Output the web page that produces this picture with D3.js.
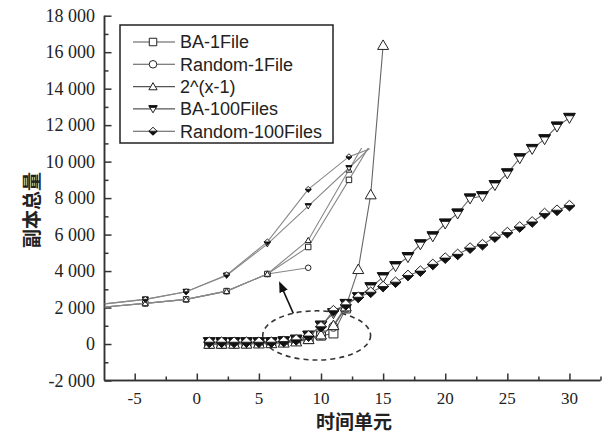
<!DOCTYPE html>
<html>
<head>
<meta charset="utf-8">
<script src="https://cdn.jsdelivr.net/npm/d3@7"></script>
<style>
	body { margin: 0; background: #fff; }
	svg { display: block; }
</style>
</head>
<body>
<svg id="chart"></svg>
<script>
	// Main series (x = time unit)
	const xPow = [1, 2, 3, 4, 5, 6, 7, 8, 9, 10, 11, 12, 13, 14, 15];
	const pow2 = [1, 2, 4, 8, 16, 32, 64, 128, 256, 512, 1024, 2048, 4096, 8192, 16384];

	const x1File = [1, 2, 3, 4, 5, 6, 7, 8, 9, 10, 11, 12];
	const ba1File = [5, 10, 20, 40, 60, 90, 130, 180, 270, 460, 580, 1950];
	const random1File = [5, 10, 20, 40, 60, 90, 130, 200, 300, 520, 950, 2000];

	const x100Files = [1, 2, 3, 4, 5, 6, 7, 8, 9, 10, 11, 12, 13, 14, 15, 16, 17, 18, 19, 20,
		21, 22, 23, 24, 25, 26, 27, 28, 29, 30];
	const ba100Files = [100, 100, 100, 100, 100, 100, 150, 240, 460, 1010, 1690, 2200, 2565, 3116, 3667,
		4272, 4768, 5467, 5907, 6606, 7157, 7983, 8109, 8715, 9359, 10185, 10697, 11231, 11924, 12400];
	const random100Files = [100, 100, 100, 100, 100, 100, 140, 230, 440, 950, 1830, 2150, 2565, 2841, 3154,
		3391, 3760, 3997, 4366, 4712, 4916, 5263, 5450, 5868, 6111, 6419, 6694, 7157, 7338, 7590];

	// Magnified inset (drawn in the same axis units)
	const insetX = [-7.43, -4.15, -0.86, 2.4, 5.68, 8.97, 12.25, 15.53];
	const insetBA1 = [2030, 2230, 2450, 2900, 3840, 5320, 9000, 12700];
	const insetRandom1 = [2030, 2230, 2450, 2900, 3840, 4180];
	const insetPow = [2030, 2230, 2450, 2900, 3840, 5690, 9550, 13400];
	const insetBA100 = [2200, 2450, 2870, 3760, 5480, 7560, 9650, 11800];
	const insetRandom100 = [2200, 2450, 2870, 3790, 5600, 8480, 10270, 11100];
	const insetClip = {x0: -7.43, x1: 13.9, y0: 0, y1: 10750};

	// Annotation: dashed ellipse and arrow
	const ellipse = {cx: 9.65, cy: 470, rx: 4.34, ry: 1350};
	const arrow = {x0: 7.77, y0: 1683, x1: 6.7, y1: 3330};

	const legendLabels = ["BA-1File", "Random-1File", "2^(x-1)", "BA-100Files", "Random-100Files"];
	const yTicks = [-2000, 0, 2000, 4000, 6000, 8000, 10000, 12000, 14000, 16000, 18000];
	const xTicks = [-5, 0, 5, 10, 15, 20, 25, 30];

	(function(){
		const width = 612;
		const height = 434;
		const serif = "'Liberation Serif', 'Times New Roman', 'DejaVu Serif', serif";
		const sans = "'Liberation Sans', Arial, sans-serif";
		const cjk = "'Noto Sans CJK SC', sans-serif";

		const x = d3.scaleLinear()
				.domain([-7.43, 32.5])
				.range([104.5, 600.5]);

		const y = d3.scaleLinear()
				.domain([-2000, 18000])
				.range([380.5, 15.7]);

		const fmt = d3.formatLocale({decimal: ".", thousands: " ", grouping: [3], currency: ["", ""], minus: "-"}).format(",");

		const svg = d3.select("#chart")
				.attr("width", width)
				.attr("height", height);

		///////////////////////////////////////////////////////////////
		// Axes (left + bottom only, ticks inward)
		const yAxis = svg.append("g")
				.attr("transform", `translate(${x.range()[0]},0)`)
				.call(d3.axisRight(y).tickValues(yTicks).tickSize(7).tickFormat(""));
		yAxis.append("g")
				.call(d3.axisRight(y).tickValues(d3.range(-1000, 18000, 2000)).tickSize(4).tickFormat(""));
		yAxis.selectAll(".domain").attr("d", `M0,${y.range()[0]}V${y.range()[1]}`);

		const xAxis = svg.append("g")
				.attr("transform", `translate(0,${y.range()[0]})`)
				.call(d3.axisTop(x).tickValues(xTicks).tickSize(7).tickFormat(""));
		xAxis.append("g")
				.call(d3.axisTop(x).tickValues(d3.range(-2.5, 33, 5)).tickSize(4).tickFormat(""));
		xAxis.selectAll(".domain").attr("d", `M${x.range()[0]},0H${x.range()[1]}`);

		svg.selectAll(".domain, .tick line")
				.attr("stroke", "#333")
				.attr("stroke-width", 1.5);

		svg.selectAll(".y-label")
			.data(yTicks)
			.enter().append("text")
				.attr("x", 95)
				.attr("y", d => y(d))
				.attr("dy", "0.35em")
				.attr("text-anchor", "end")
				.style("font-family", serif)
				.style("font-size", "18px")
				.style("fill", "#222")
				.text(d => fmt(d));

		svg.selectAll(".x-label")
			.data(xTicks)
			.enter().append("text")
				.attr("x", d => x(d))
				.attr("y", 404)
				.attr("text-anchor", "middle")
				.style("font-family", serif)
				.style("font-size", "17px")
				.style("fill", "#222")
				.text(d => d < 0 ? "-" + Math.abs(d) : d);

		svg.append("text")
				.attr("x", 354)
				.attr("y", 429)
				.attr("text-anchor", "middle")
				.style("font-family", cjk)
				.style("font-size", "19px")
				.style("font-weight", "bold")
				.style("fill", "#222")
				.text("时间单元");

		svg.append("text")
				.attr("transform", "translate(39,210) rotate(-90)")
				.attr("text-anchor", "middle")
				.style("font-family", cjk)
				.style("font-size", "19px")
				.style("font-weight", "bold")
				.style("fill", "#222")
				.text("副本总量");

		///////////////////////////////////////////////////////////////
		// Markers
		function markerPath(shape, s) {
			const h = s / 2;
			if (shape === "square") return `M${-h},${-h}H${h}V${h}H${-h}Z`;
			if (shape === "circle") return d3.symbol(d3.symbolCircle, s * s * 0.8)();
			if (shape === "triUp") return `M0,${-h * 1.05}L${h * 1.1},${h * 0.85}L${-h * 1.1},${h * 0.85}Z`;
			if (shape === "triDown") return `M${-h * 1.1},${-h * 0.85}H${h * 1.1}L0,${h * 1.05}Z`;
			if (shape === "diamond") return `M0,${-h * 1.05}L${h * 1.1},0L0,${h * 1.05}L${-h * 1.1},0Z`;
		}

		function markerFill(shape, s) {
			const h = s / 2;
			if (shape === "triDown") {
				const t = 0.24;
				const yb = -h * 0.85 + t * h * 1.9;
				const w = h * 1.1 * (1 - t);
				return `M${-h * 1.1},${-h * 0.85}H${h * 1.1}L${w},${yb}H${-w}Z`;
			}
			if (shape === "diamond") return `M${-h * 1.1},0H${h * 1.1}L0,${h * 1.05}Z`;
			return null;
		}

		function drawMarker(g, shape, s) {
			g.append("path")
					.attr("d", markerPath(shape, s))
					.attr("fill", "#fff")
					.attr("stroke", "#222")
					.attr("stroke-width", 1);
			const f = markerFill(shape, s);
			if (f) {
				g.append("path")
						.attr("d", f)
						.attr("fill", "#111")
						.attr("stroke", "#111")
						.attr("stroke-width", 0.8);
			}
		}

		const line = d3.line()
				.x(d => x(d[0]))
				.y(d => y(d[1]));

		///////////////////////////////////////////////////////////////
		// Inset (magnified region)
		svg.append("clipPath")
				.attr("id", "inset-clip")
			.append("rect")
				.attr("x", x(insetClip.x0))
				.attr("y", y(insetClip.y1))
				.attr("width", x(insetClip.x1) - x(insetClip.x0))
				.attr("height", y(insetClip.y0) - y(insetClip.y1));

		const inset = svg.append("g")
				.attr("clip-path", "url(#inset-clip)");

		const insetSeries = [
			{shape: "circle", values: insetRandom1},
			{shape: "square", values: insetBA1},
			{shape: "triUp", values: insetPow},
			{shape: "triDown", values: insetBA100},
			{shape: "diamond", values: insetRandom100}
		];

		insetSeries.forEach(s => {
			const pts = s.values.map((v, i) => [insetX[i], v]);
			inset.append("path")
					.attr("d", line(pts))
					.attr("fill", "none")
					.attr("stroke", "#888")
					.attr("stroke-width", 1.1);
			pts.slice(1).forEach(p => {
				const m = inset.append("g")
						.attr("transform", `translate(${x(p[0])},${y(p[1])})`);
				drawMarker(m, s.shape, 5.5);
			});
		});

		///////////////////////////////////////////////////////////////
		// Annotation
		svg.append("ellipse")
				.attr("cx", x(ellipse.cx))
				.attr("cy", y(ellipse.cy))
				.attr("rx", x(ellipse.cx + ellipse.rx) - x(ellipse.cx))
				.attr("ry", y(ellipse.cy) - y(ellipse.cy + ellipse.ry))
				.attr("fill", "none")
				.attr("stroke", "#333")
				.attr("stroke-width", 1.6)
				.attr("stroke-dasharray", "5,4");

		svg.append("defs").append("marker")
				.attr("id", "arrow-head")
				.attr("viewBox", "0 0 10 10")
				.attr("refX", 8)
				.attr("refY", 5)
				.attr("markerWidth", 7)
				.attr("markerHeight", 7)
				.attr("orient", "auto")
			.append("path")
				.attr("d", "M0,1L10,5L0,9Z")
				.attr("fill", "#111");

		svg.append("line")
				.attr("x1", x(arrow.x0))
				.attr("y1", y(arrow.y0))
				.attr("x2", x(arrow.x1))
				.attr("y2", y(arrow.y1))
				.attr("stroke", "#111")
				.attr("stroke-width", 1.6)
				.attr("marker-end", "url(#arrow-head)");

		///////////////////////////////////////////////////////////////
		// Main series
		const series = [
			{shape: "square", xs: x1File, values: ba1File, size: 9},
			{shape: "circle", xs: x1File, values: random1File, size: 9},
			{shape: "triUp", xs: xPow, values: pow2, size: 10},
			{shape: "triDown", xs: x100Files, values: ba100Files, size: 10.5},
			{shape: "diamond", xs: x100Files, values: random100Files, size: 10}
		];

		series.forEach(s => {
			const pts = s.values.map((v, i) => [s.xs[i], v]);
			svg.append("path")
					.attr("d", line(pts))
					.attr("fill", "none")
					.attr("stroke", "#666")
					.attr("stroke-width", 1.1);
			pts.forEach(p => {
				const m = svg.append("g")
						.attr("transform", `translate(${x(p[0])},${y(p[1])})`);
				drawMarker(m, s.shape, s.size);
			});
		});

		///////////////////////////////////////////////////////////////
		// Legend
		const legend = svg.append("g");
		legend.append("rect")
				.attr("x", 120)
				.attr("y", 25)
				.attr("width", 213)
				.attr("height", 118)
				.attr("fill", "#fff")
				.attr("stroke", "#222")
				.attr("stroke-width", 1.5);

		legendLabels.forEach((label, i) => {
			const ly = 42 + i * 22.3;
			legend.append("line")
					.attr("x1", 133)
					.attr("x2", 175)
					.attr("y1", ly)
					.attr("y2", ly)
					.attr("stroke", "#555")
					.attr("stroke-width", 1.1);
			const m = legend.append("g")
					.attr("transform", `translate(153,${ly})`);
			drawMarker(m, series[i].shape, 7.5);
			legend.append("text")
					.attr("x", 180)
					.attr("y", ly)
					.attr("dy", "0.36em")
					.style("font-family", sans)
					.style("font-size", "18px")
					.style("fill", "#222")
					.text(label);
		});
	}());
</script>
</body>
</html>
